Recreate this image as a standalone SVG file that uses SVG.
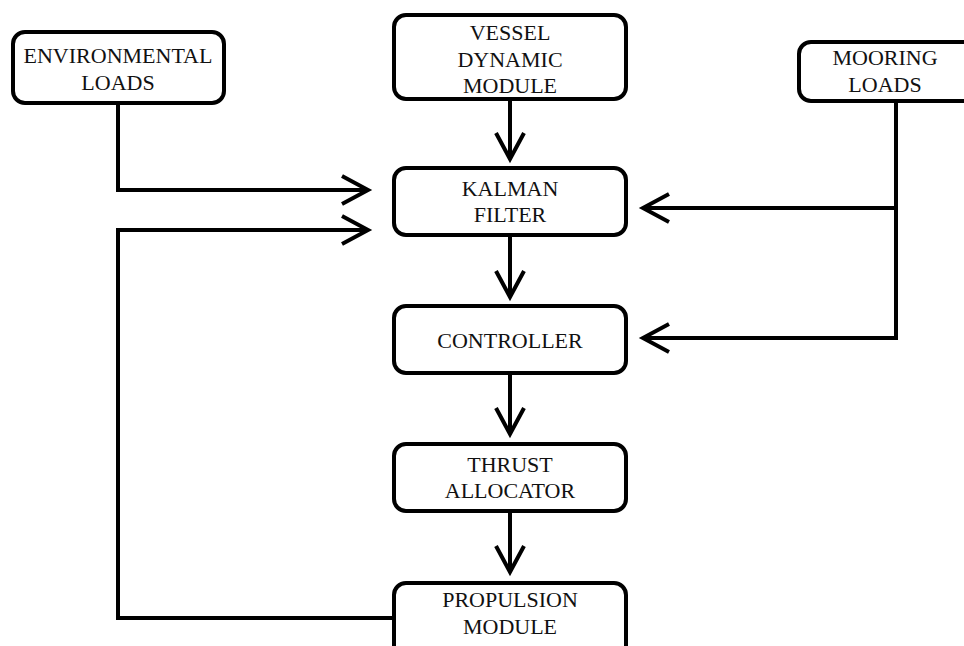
<svg xmlns="http://www.w3.org/2000/svg" width="964" height="646" viewBox="0 0 964 646">
<defs>
<style>
.box{fill:#fff;stroke:#000;stroke-width:4}
.lbl{font-family:"Liberation Serif","Times New Roman",serif;font-size:22px;fill:#111;text-anchor:middle}
.con{fill:none;stroke:#000;stroke-width:4;stroke-linejoin:miter}
</style>
<marker id="arr" markerUnits="userSpaceOnUse" markerWidth="40" markerHeight="40" viewBox="-32 -20 40 40" refX="0" refY="0" orient="auto">
<path d="M-26,-14 L0,0 L-26,14" fill="none" stroke="#000" stroke-width="4" stroke-linejoin="miter"/>
</marker>
</defs>
<rect width="964" height="646" fill="#fff"/>
<g id="connectors">
<path class="con" d="M118,104 V190 H368" marker-end="url(#arr)"/>
<path class="con" d="M394,618 H118 V230 H368" marker-end="url(#arr)"/>
<path class="con" d="M510,100 V159" marker-end="url(#arr)"/>
<path class="con" d="M510,236 V297" marker-end="url(#arr)"/>
<path class="con" d="M510,374 V434" marker-end="url(#arr)"/>
<path class="con" d="M510,512 V572" marker-end="url(#arr)"/>
<path class="con" d="M896,102 V338 H643" marker-end="url(#arr)"/>
<path class="con" d="M896,208 H643" marker-end="url(#arr)"/>
</g>
<g id="environmental-loads">
<rect class="box" x="13" y="32" width="211" height="71" rx="12"/>
<text class="lbl" x="118" y="63">ENVIRONMENTAL</text>
<text class="lbl" x="118" y="90">LOADS</text>
</g>
<g id="vessel-dynamic-module">
<rect class="box" x="394" y="15" width="232" height="84" rx="12"/>
<text class="lbl" x="510" y="40">VESSEL</text>
<text class="lbl" x="510" y="67">DYNAMIC</text>
<text class="lbl" x="510" y="93">MODULE</text>
</g>
<g id="mooring-loads">
<rect class="box" x="799" y="42" width="176" height="59" rx="12"/>
<text class="lbl" x="885" y="65">MOORING</text>
<text class="lbl" x="885" y="92">LOADS</text>
</g>
<g id="kalman-filter">
<rect class="box" x="394" y="168" width="232" height="67" rx="12"/>
<text class="lbl" x="510" y="196">KALMAN</text>
<text class="lbl" x="510" y="222">FILTER</text>
</g>
<g id="controller">
<rect class="box" x="394" y="306" width="232" height="67" rx="12"/>
<text class="lbl" x="510" y="348">CONTROLLER</text>
</g>
<g id="thrust-allocator">
<rect class="box" x="394" y="444" width="232" height="67" rx="12"/>
<text class="lbl" x="510" y="472">THRUST</text>
<text class="lbl" x="510" y="498">ALLOCATOR</text>
</g>
<g id="propulsion-module">
<rect class="box" x="394" y="583" width="232" height="80" rx="12"/>
<text class="lbl" x="510" y="607">PROPULSION</text>
<text class="lbl" x="510" y="634">MODULE</text>
</g>
</svg>
